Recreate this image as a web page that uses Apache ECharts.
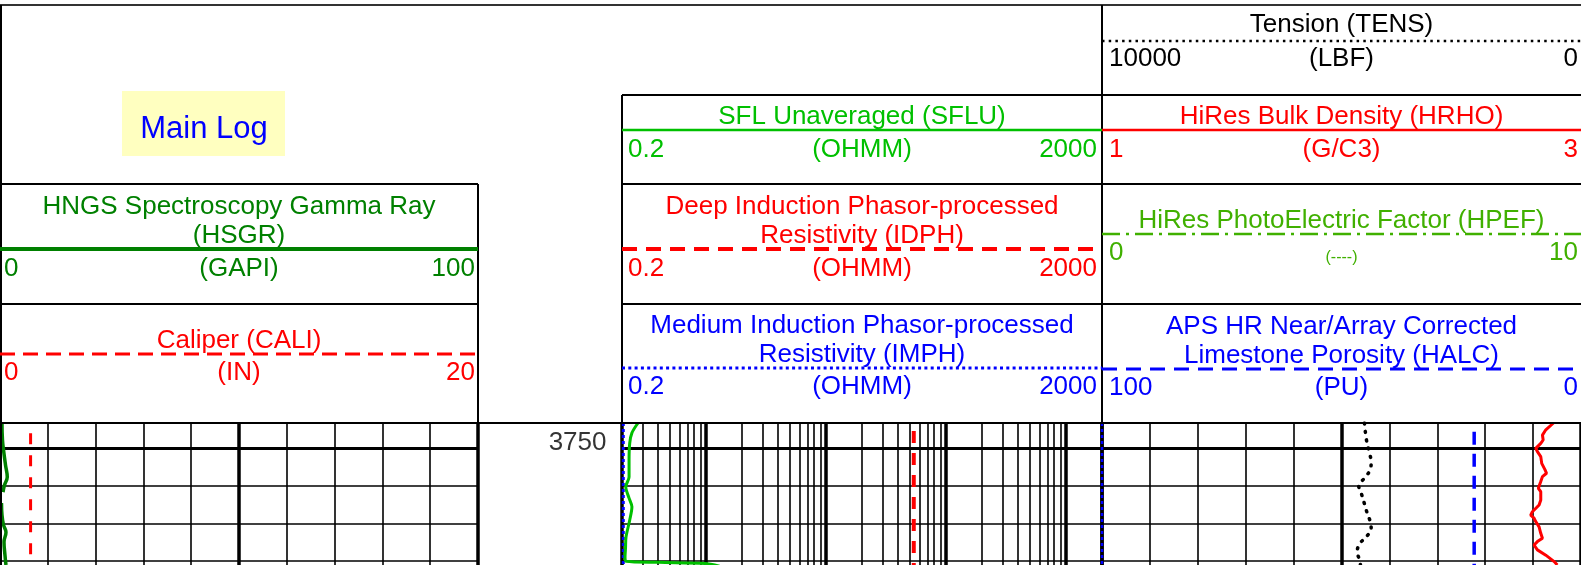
<!DOCTYPE html>
<html>
<head>
<meta charset="utf-8">
<script src="https://cdn.jsdelivr.net/npm/echarts@6/dist/echarts.min.js"></script>
<style>
  html, body { margin: 0; padding: 0; background: #fff; }
  #chart { width: 1581px; height: 565px; }
</style>
</head>
<body>
<div id="chart"></div>
<script>
// ---- Depth window of the log body (ft) ----
const depthTop = 3743.4;
const depthBottom = 3781.0;
const depthMajorLines = [3750];
const depthMinorLines = [3760, 3770, 3780];
const depthLabels = [3750];

// ---- Track grid divisions ----
const linearMinorTicks = [10, 20, 30, 40, 60, 70, 80, 90];
const linearMajorTicks = [50];
const linearEdges = [0, 100];
const logMinorTicks = [0.3, 0.4, 0.5, 0.6, 0.7, 0.8, 0.9,
  2, 3, 4, 5, 6, 7, 8, 9,
  20, 30, 40, 50, 60, 70, 80, 90,
  200, 300, 400, 500, 600, 700, 800, 900];
const logMajorTicks = [1, 10, 100, 1000];
const logEdges = [0.2, 2000];

// ---- Curve samples: [depth, value] (null = no data) ----
const hsgr = [
  [3743.4, 0.42], [3743.9, 0.42], [3747.9, 0.52], [3750.5, 0.73], [3754.5, 1.15],
  [3757.7, 1.52], [3759.8, 0.94], [3761.7, 0.63],
  null,
  [3764.6, 0.31], [3767.8, 0.42], [3770.4, 0.73], [3772.3, 1.25], [3774.9, 0.84],
  [3778.4, 1.04], [3781.0, 1.25]
];
const cali = [[3743.4, 1.28], [3762.0, 1.28], [3781.0, 1.28]];
const sflu = [
  [3743.4, 0.272], [3746.0, 0.242], [3748.7, 0.232], [3753.2, 0.229], [3757.7, 0.229],
  [3760.3, 0.215], [3763.3, 0.229], [3765.6, 0.242], [3769.1, 0.232], [3773.6, 0.216],
  [3776.5, 0.214], [3778.9, 0.212], [3780.0, 0.216], [3780.3, 0.406], [3780.6, 0.98],
  [3781.3, 1.3]
];
const idph = [[3743.4, 54], [3762.0, 54], [3781.0, 54]];
const imph = [[3743.4, 0.205], [3762.0, 0.205], [3781.0, 0.205]];
const imphWrap = [[3743.4, 100], [3762.0, 100], [3781.0, 100]];
const tens = [
  [3743.4, 4521], [3747.9, 4479], [3751.3, 4417], [3753.7, 4381], [3755.8, 4402],
  [3758.0, 4521], [3760.1, 4640], [3761.9, 4590], [3766.4, 4485], [3771.2, 4381],
  [3773.6, 4485], [3775.2, 4610], [3777.5, 4673], [3779.6, 4625], [3781.0, 4604]
];
const halc = [[3743.4, 22.3], [3762.0, 22.3], [3781.0, 22.3]];
const hrho = [
  [3743.4, 2.885], [3743.9, 2.878], [3745.2, 2.853], [3746.6, 2.839], [3747.9, 2.842],
  [3748.8, 2.832], [3750.1, 2.811], [3751.0, 2.818], [3752.3, 2.832], [3754.1, 2.836],
  [3755.8, 2.850], [3756.7, 2.856], [3757.6, 2.839], [3758.9, 2.832], [3760.7, 2.822],
  [3761.6, 2.832], [3763.8, 2.832], [3765.1, 2.825], [3766.9, 2.797], [3767.8, 2.790],
  [3768.6, 2.804], [3769.5, 2.811], [3770.9, 2.825], [3772.6, 2.832], [3773.9, 2.839],
  [3774.8, 2.818], [3775.7, 2.804], [3777.0, 2.818], [3778.4, 2.853], [3780.1, 2.888],
  [3781.0, 2.901]
];

// ---- Curve header texts ----
const headerTitles = [
  ['Tension (TENS)'],
  ['HiRes Bulk Density (HRHO)'],
  ['SFL Unaveraged (SFLU)'],
  ['HNGS Spectroscopy Gamma Ray', '(HSGR)'],
  ['Deep Induction Phasor-processed', 'Resistivity (IDPH)'],
  ['HiRes PhotoElectric Factor (HPEF)'],
  ['Caliper (CALI)'],
  ['Medium Induction Phasor-processed', 'Resistivity (IMPH)'],
  ['APS HR Near/Array Corrected', 'Limestone Porosity (HALC)']
];
const headerUnits = ['(LBF)', '(G/C3)', '(OHMM)', '(GAPI)', '(OHMM)', '(----)', '(IN)', '(OHMM)', '(PU)'];
const headerScaleLeft = ['10000', '1', '0.2', '0', '0.2', '0', '0', '0.2', '100'];
const headerScaleRight = ['0', '3', '2000', '100', '2000', '10', '20', '2000', '0'];

// ---- Page layout ----
const FONT = '"Liberation Sans", Arial, Helvetica, sans-serif';
const TEXT_SIZE = 26;
const BODY_TOP = 423;
const BODY_H = 142;
const TRACK = {
  t1: { left: 0, width: 478, padL: 4, padR: 3 },
  depth: { left: 478, width: 144 },
  t2: { left: 622, width: 480, padL: 6, padR: 5 },
  t3: { left: 1102, width: 479, padL: 7, padR: 3 }
};
const RED = '#ff0000', BLUE = '#0000ff', DKGREEN = '#008000', GREEN = '#00c000', LTGREEN = '#40b000';

// header style per entry (same order as the text arrays)
const headerLayout = [
  { track: 't3', lineY: 41, color: '#000', width: 2.5, dash: [2.5, 4.2], titleColor: '#000', titleShift: -3, labelShift: -2 },
  { track: 't3', lineY: 130, color: RED, width: 2.5, dash: null },
  { track: 't2', lineY: 130, color: GREEN, width: 2.5, dash: null },
  { track: 't1', lineY: 249, color: DKGREEN, width: 4, dash: null },
  { track: 't2', lineY: 249, color: RED, width: 4, dash: [15, 9] },
  { track: 't3', lineY: 234, color: LTGREEN, width: 2.5, dash: [18, 6, 3, 6], unitSize: 16, labelShift: -1.5 },
  { track: 't1', lineY: 354, color: RED, width: 3, dash: [15, 8], labelShift: -1.5 },
  { track: 't2', lineY: 368, color: BLUE, width: 3, dash: [3, 3.3], labelShift: -1.5 },
  { track: 't3', lineY: 369, color: BLUE, width: 3, dash: [15, 9], labelShift: -1.5 }
];

function txt(text, x, y, color, size, align) {
  return {
    type: 'text', x: x, y: y, silent: true, z: 10,
    style: { text: text, fill: color, fontSize: size, fontFamily: FONT,
             align: align || 'center', verticalAlign: 'middle' }
  };
}
function seg(x1, y1, x2, y2, color, width, dash) {
  const style = { stroke: color, lineWidth: width };
  if (dash) style.lineDash = dash;
  return { type: 'line', silent: true, z: 9, shape: { x1: x1, y1: y1, x2: x2, y2: y2 }, style: style };
}

const graphics = [];
// frame of the header
graphics.push(seg(0, 5, 1581, 5, '#333', 2));
graphics.push(seg(1, 5, 1, 565, '#000', 2));
graphics.push(seg(478, 184, 478, 423, '#000', 2));
graphics.push(seg(622, 95, 622, 423, '#000', 2));
graphics.push(seg(1102, 5, 1102, 423, '#000', 2));
graphics.push(seg(622, 95, 1581, 95, '#000', 2));
graphics.push(seg(0, 184, 478, 184, '#000', 2));
graphics.push(seg(622, 184, 1581, 184, '#000', 2));
graphics.push(seg(0, 304, 478, 304, '#000', 2));
graphics.push(seg(622, 304, 1581, 304, '#000', 2));
graphics.push(seg(0, 423, 1581, 423, '#000', 2));

// "Main Log" tag
graphics.push({ type: 'rect', silent: true, z: 8, shape: { x: 122, y: 91, width: 163, height: 65 }, style: { fill: '#ffffc0' } });
graphics.push(txt('Main Log', 204, 129.5, BLUE, 31));

// curve headers
headerLayout.forEach(function (h, i) {
  const t = TRACK[h.track];
  const cx = t.left + t.width / 2;
  const right = Math.min(t.left + t.width, 1581);
  const titleColor = h.titleColor || h.color;
  graphics.push(seg(t.left, h.lineY, right, h.lineY, h.color, h.width, h.dash));
  const lines = headerTitles[i];
  lines.forEach(function (line, k) {
    const y = h.lineY - 13.5 + (h.titleShift || 0) - (lines.length - 1 - k) * 28.7;
    graphics.push(txt(line, cx, y, titleColor, TEXT_SIZE));
  });
  const ly = h.lineY + 20 + (h.labelShift || 0);
  graphics.push(txt(headerScaleLeft[i], t.left + t.padL, ly, titleColor, TEXT_SIZE, 'left'));
  graphics.push(txt(headerScaleRight[i], right - t.padR, ly, titleColor, TEXT_SIZE, 'right'));
  if (h.unitSize) {
    graphics.push(txt(headerUnits[i], cx, ly + 5, titleColor, h.unitSize));
  } else {
    graphics.push(txt(headerUnits[i], cx, ly, titleColor, TEXT_SIZE));
  }
});

// ---- body grid lines as mark lines ----
const THIN = { color: '#000', width: 1.6, type: 'solid' };
const THICK = { color: '#000', width: 3.5, type: 'solid' };
function gridSeries(xAxisIndex, yAxisIndex, minorX, majorX, edgeX) {
  const data = [];
  minorX.forEach(function (v) { data.push({ xAxis: v, lineStyle: THIN }); });
  depthMinorLines.forEach(function (d) { data.push({ yAxis: d, lineStyle: THIN }); });
  majorX.forEach(function (v) { data.push({ xAxis: v, lineStyle: THICK }); });
  edgeX.forEach(function (v) { data.push({ xAxis: v, lineStyle: THICK }); });
  depthMajorLines.forEach(function (d) { data.push({ yAxis: d, lineStyle: { color: '#000', width: 3, type: 'solid' } }); });
  return {
    type: 'line', xAxisIndex: xAxisIndex, yAxisIndex: yAxisIndex, data: [], z: 1, silent: true,
    markLine: {
      silent: true, symbol: ['none', 'none'], label: { show: false },
      emphasis: { disabled: true }, animation: false, data: data
    }
  };
}

function curve(name, pts, xAxisIndex, yAxisIndex, lineStyle, smooth) {
  return {
    name: name, type: 'line', xAxisIndex: xAxisIndex, yAxisIndex: yAxisIndex,
    z: 5, silent: true, showSymbol: false, symbol: 'none', smooth: smooth || false,
    connectNulls: false, clip: true, lineStyle: lineStyle,
    data: pts.map(function (p) { return p ? [p[1], p[0]] : ['-', '-']; })
  };
}

function hiddenX(gridIndex, extra) {
  return Object.assign({ gridIndex: gridIndex, type: 'value', show: false,
    splitLine: { show: false }, axisLine: { show: false } }, extra);
}

const option = {
  animation: false,
  backgroundColor: '#ffffff',
  grid: [
    { left: TRACK.t1.left, top: BODY_TOP, width: TRACK.t1.width, height: BODY_H },
    { left: TRACK.depth.left, top: BODY_TOP, width: TRACK.depth.width, height: BODY_H },
    { left: TRACK.t2.left, top: BODY_TOP, width: TRACK.t2.width, height: BODY_H },
    { left: TRACK.t3.left, top: BODY_TOP, width: TRACK.t3.width, height: BODY_H }
  ],
  xAxis: [
    hiddenX(0, { min: 0, max: 100 }),                      // 0: HSGR / track grid
    hiddenX(0, { min: 0, max: 20 }),                       // 1: CALI
    hiddenX(1, { min: 0, max: 1 }),                        // 2: depth track
    hiddenX(2, { type: 'log', logBase: 10, min: 0.2, max: 2000 }), // 3: resistivity
    hiddenX(3, { min: 0, max: 10000, inverse: true }),     // 4: TENS
    hiddenX(3, { min: 1, max: 3 }),                        // 5: HRHO
    hiddenX(3, { min: 0, max: 100, inverse: true })        // 6: HALC / track grid
  ],
  yAxis: [0, 1, 2, 3].map(function (i) {
    return { gridIndex: i, type: 'value', min: depthTop, max: depthBottom, inverse: true, show: false, splitLine: { show: false } };
  }),
  series: [
    gridSeries(0, 0, linearMinorTicks, linearMajorTicks, linearEdges),
    gridSeries(3, 2, logMinorTicks, logMajorTicks, logEdges),
    gridSeries(6, 3, linearMinorTicks, linearMajorTicks, linearEdges),
    {
      type: 'scatter', xAxisIndex: 2, yAxisIndex: 1, z: 6, silent: true,
      symbolSize: 1, itemStyle: { color: 'rgba(0,0,0,0)' },
      data: depthLabels.map(function (d) { return [1, d]; }),
      label: {
        show: true, position: 'left', distance: 15, offset: [0, -5.5],
        color: '#000', fontSize: TEXT_SIZE, fontFamily: FONT,
        formatter: function (p) { return String(p.value[1]); }
      }
    },
    curve('CALI', cali, 1, 0, { color: RED, width: 3, type: [11, 11], dashOffset: 11.7 }),
    curve('HSGR', hsgr, 0, 0, { color: DKGREEN, width: 3.5 }, 0.4),
    curve('IMPH', imph, 3, 2, { color: BLUE, width: 3, type: [3, 3] }),
    curve('IDPH', idph, 3, 2, { color: RED, width: 4, type: [12, 10], dashOffset: 14 }),
    curve('SFLU', sflu, 3, 2, { color: GREEN, width: 3 }, 0.3),
    curve('IMPH', imphWrap, 6, 3, { color: BLUE, width: 2.5, type: [3, 3] }),
    curve('TENS', tens, 4, 3, { color: '#000', width: 3.5, type: [1, 7.5], cap: 'round' }, 0.4),
    curve('HALC', halc, 6, 3, { color: BLUE, width: 3.5, type: [13, 9], dashOffset: 13.3 }),
    curve('HRHO', hrho, 5, 3, { color: RED, width: 3 })
  ],
  graphic: graphics
};

const chart = echarts.init(document.getElementById('chart'), null, { renderer: 'canvas' });
chart.setOption(option);
</script>
</body>
</html>
